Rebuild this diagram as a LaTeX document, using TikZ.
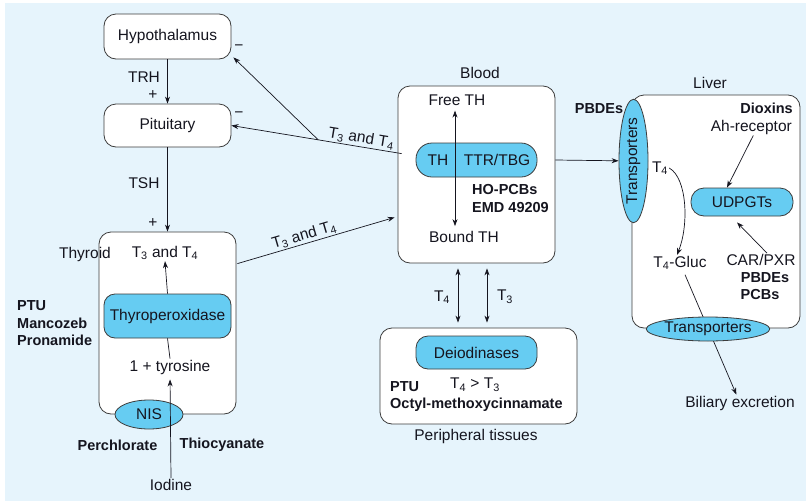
\documentclass[tikz,border=0pt]{standalone}
\usepackage{fontspec}
\setmainfont{Liberation Sans}
\usetikzlibrary{arrows.meta,shapes.geometric,calc}
\definecolor{bgc}{HTML}{E6F4FC}
\definecolor{cyc}{HTML}{66CCF2}
\definecolor{txc}{HTML}{15151F}
\definecolor{bdc}{HTML}{3C3C3C}
\newcommand{\Tn}[1]{T\textsubscript{#1}}
\begin{document}
\begin{tikzpicture}[x=1pt,y=-1pt,
  every node/.style={font=\fontsize{15.5}{18}\selectfont,text=txc,inner sep=1pt},
  bf/.style={font=\fontsize{14.5}{17.5}\selectfont\bfseries},
  box/.style={draw=bdc,fill=white,line width=0.8pt,rounded corners=12pt,inner sep=0pt},
  pill/.style={draw=bdc,fill=cyc,line width=0.8pt,inner sep=0pt},
  ell/.style={ellipse,draw=bdc,fill=cyc,line width=0.8pt,inner sep=0pt},
  ln/.style={draw=txc,line width=0.7pt},
  arr/.style={ln,-{Stealth[length=7pt,width=5pt]}},
  dbl/.style={ln,{Stealth[length=7pt,width=5pt]}-{Stealth[length=7pt,width=5pt]}}
]
\useasboundingbox (0,0) rectangle (806,501);
\fill[bgc] (5,3) rectangle (806,501);

% ---------- left column ----------
\node[box,minimum width=127pt,minimum height=45pt] (hyp) at (167.5,36.5) {Hypothalamus};
\node[box,minimum width=127pt,minimum height=43pt] (pit) at (167.5,125.5) {Pituitary};
\node[box,minimum width=137pt,minimum height=182pt] (thy) at (167.5,323) {};
\node[pill,rounded corners=11pt,minimum width=127pt,minimum height=44pt] (tpo) at (167.5,316) {Thyroperoxidase};
\node[ell,minimum width=68pt,minimum height=29pt] (nis) at (149,414.5) {NIS};

\node (trh) at (144,77) {TRH};
\node (pl1) at (153,95) {+};
\node (tsh) at (144,183) {TSH};
\node (pl2) at (153,223) {+};
\node (mi1) at (239,48) {\char"2212};
\node (mi2) at (239,115) {\char"2212};

\node (thyl) at (85,254) {Thyroid};
\node (t34) at (165,253) {\Tn3 and \Tn4};
\node (tyr) at (170,367) {1 + tyrosine};
\node (iod) at (171,485) {Iodine};
\node[bf] (perc) at (117.5,445) {Perchlorate};
\node[bf] (thio) at (222,445) {Thiocyanate};
\node[bf,anchor=west,align=left] (ptu1) at (16,323.5) {PTU\\Mancozeb\\Pronamide};

\draw[arr] (hyp.south) -- (pit.north);
\draw[arr] (pit.south) -- (thy.north);
\draw[arr] (tpo.north) -- (t34.south);
\draw[ln] (tyr.north) -- (tpo.south);
\draw[arr,shorten >=4pt] (iod.north) -- (tyr.south);

% ---------- blood ----------
\node[box,minimum width=157pt,minimum height=177pt] (blood) at (476.5,174.5) {};
\node (bloodl) at (480,73) {Blood};
\node[pill,rounded corners=16pt,minimum width=121pt,minimum height=34pt] (ttr) at (476.5,160) {};
\node (th) at (438,160) {TH};
\node (tbg) at (497,160) {TTR/TBG};
\node (freeth) at (457,100) {Free TH};
\node (boundth) at (464,237) {Bound TH};
\node[bf,anchor=west,align=left] (hopcb) at (471,198.5) {HO-PCBs\\EMD 49209};
\coordinate (dv) at (455,160);
\draw[dbl] (dv |- freeth.south) ++(0,4) -- ($(dv |- boundth.north)+(0,-4)$);

% feedback arrows
\coordinate (bout) at ($(blood.north west)+(4,68)$);
\coordinate (J) at ($(bout)!0.49!(pit.east)$);
\draw[arr] (bout) -- node[sloped,above,pos=0.245]{\Tn3 and \Tn4} (pit.east);
\draw[arr] (J) -- ([shift={(2,-2)}]hyp.south east);
\coordinate (tout) at ($(thy.north east)+(1,32)$);
\coordinate (bin) at ($(blood.south west)+(-3,-46)$);
\draw[arr] (tout) -- node[sloped,above,pos=0.44]{\Tn3 and \Tn4} (bin);

% ---------- peripheral tissues ----------
\node[box,minimum width=197pt,minimum height=96pt] (per) at (478.5,376) {};
\node (perl) at (476,436) {Peripheral tissues};
\node[pill,rounded corners=12pt,minimum width=121pt,minimum height=33pt] (deio) at (476.5,352.5) {Deiodinases};
\node (t43) at (475,385) {\Tn4 > \Tn3};
\node[bf,anchor=west,align=left] (ptu2) at (389,396.5) {PTU\\Octyl-methoxycinnamate};
\coordinate (a4) at (458,295);
\coordinate (a3) at (487,295);
\draw[dbl,shorten >=5pt,shorten <=5pt] (a4 |- blood.south) -- (a4 |- per.north);
\draw[dbl,shorten >=5pt,shorten <=5pt] (a3 |- blood.south) -- (a3 |- per.north);
\node (t4p) at (442,297) {\Tn4};
\node (t3p) at (505,297) {\Tn3};

% ---------- liver ----------
\node[box,minimum width=168pt,minimum height=233pt] (liver) at (716,211.5) {};
\node (liverl) at (710,83) {Liver};
\node[bf] (pbde1) at (599,109) {PBDEs};
\node[bf,anchor=east] (diox) at (794,108) {Dioxins};
\node[anchor=east] (ah) at (793,127) {Ah-receptor};
\node[pill,rounded corners=13pt,minimum width=102pt,minimum height=28pt] (udp) at (742,202) {UDPGTs};
\node (t4l) at (660,168) {\Tn4};
\node (t4g) at (680,263) {\Tn4-Gluc};
\node (carpxr) at (761,260) {CAR/PXR};
\node[bf] (pbde2) at (765,278) {PBDEs};
\node[bf] (pcbs) at (760,295) {PCBs};
\node (bil) at (740,403) {Biliary excretion};

\draw[arr,shorten <=4pt] (t4g) -- (bil);
\node[ell,minimum width=110pt,minimum height=24pt] (htrans) at (708,329) {Transporters};
\node[ell,rotate=90,minimum width=112pt,minimum height=29pt] (vtrans) at (633.5,161) {Transporters};

\draw[arr] (blood.east |- ttr.center) -- (vtrans);
\draw[arr] ([xshift=2pt]ah.south) -- ([xshift=-15pt]udp.north);
\draw[arr] ([xshift=6pt]carpxr.north) -- ([shift={(-5,6)}]udp.south);
\draw[arr] (t4l.east) .. controls +(18,10) and +(12,-30) .. ([xshift=-3pt]t4g.north);
\end{tikzpicture}
\end{document}
